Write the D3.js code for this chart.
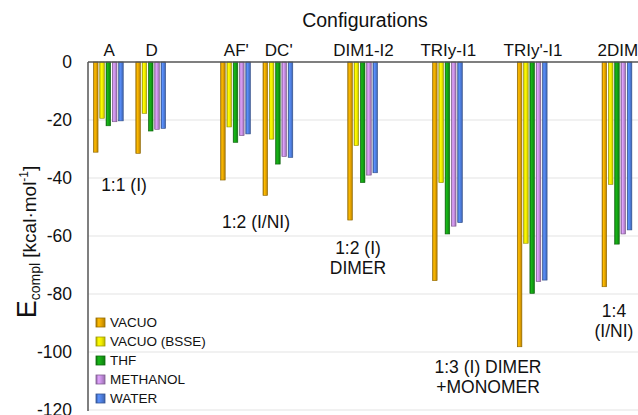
<!DOCTYPE html>
<html>
<head>
<meta charset="utf-8">
<script src="https://cdn.jsdelivr.net/npm/d3@7"></script>
<style>
  body { margin: 0; background: #fff; }
  svg { display: block; font-family: "Liberation Sans", Arial, sans-serif; }
</style>
</head>
<body>
<div id="chart"></div>
<script>
// Category slots along the top (empty strings are spacer slots)
const categories = ["A", "D", "", "AF'", "DC'", "", "DIM1-I2", "", "TRIy-I1", "", "TRIy'-I1", "", "2DIM"];
const configs = ["A", "D", "AF'", "DC'", "DIM1-I2", "TRIy-I1", "TRIy'-I1", "2DIM"];
const series = ["VACUO", "VACUO (BSSE)", "THF", "METHANOL", "WATER"];

// Complexation energies (kcal/mol), one array per series, in config order
const vacuo     = [-31.1, -31.5, -40.7, -46.0, -54.5, -75.4, -98.2, -77.5];
const vacuoBsse = [-19.4, -17.7, -22.4, -26.6, -28.8, -41.6, -62.5, -42.2];
const thf       = [-22.0, -23.8, -27.7, -35.2, -41.6, -59.3, -79.8, -62.8];
const methanol  = [-20.6, -23.2, -25.4, -32.6, -39.0, -56.6, -75.7, -59.3];
const water     = [-20.3, -22.9, -24.8, -32.9, -38.2, -55.4, -75.2, -57.9];

const yTicks = [0, -20, -40, -60, -80, -100, -120];

const colors = ["#E6A400", "#F2EC00", "#14A014", "#C48EDF", "#4F7FDF"];

// Text notes grouped by stoichiometry
const notes = [
  { lines: ["1:1 (I)"], x: 124, y: 191 },
  { lines: ["1:2 (I/NI)"], x: 256, y: 228 },
  { lines: ["1:2 (I)", "DIMER"], x: 358, y: 254 },
  { lines: ["1:3 (I) DIMER", "+MONOMER"], x: 488, y: 373 },
  { lines: ["1:4", "(I/NI)"], x: 614, y: 317 }
];

const width = 638, height = 415;
const margin = { top: 62, left: 88, right: 0, bottom: 5 };

const values = [vacuo, vacuoBsse, thf, methanol, water];
const data = configs.map((c, i) => ({
  config: c,
  vals: series.map((s, j) => ({ series: s, idx: j, value: values[j][i] }))
}));

const svg = d3.select("#chart").append("svg")
  .attr("width", width).attr("height", height);

const x = d3.scaleBand()
  .domain(categories.map((c, i) => c || "gap" + i))
  .range([margin.left, 639])
  .paddingInner(0).paddingOuter(0);

const y = d3.scaleLinear().domain([-120, 0]).range([410, margin.top]);

const inner = d3.scaleBand().domain(series).range([0, 31.5]);
const barW = 4.6;
const groupOffset = (x.bandwidth() - inner.range()[1]) / 2;

// gradients to give the bars their shaded look
const defs = svg.append("defs");
colors.forEach((c, i) => {
  const g = defs.append("linearGradient").attr("id", "grad" + i)
    .attr("x1", "0%").attr("x2", "100%").attr("y1", "0%").attr("y2", "0%");
  const base = d3.color(c);
  g.append("stop").attr("offset", "0%").attr("stop-color", base.darker(0.9));
  g.append("stop").attr("offset", "30%").attr("stop-color", base.brighter(0.4));
  g.append("stop").attr("offset", "60%").attr("stop-color", base);
  g.append("stop").attr("offset", "100%").attr("stop-color", base.darker(0.7));
});

// gridlines
svg.append("g").selectAll("line")
  .data(yTicks.filter(t => t !== 0))
  .join("line")
  .attr("x1", margin.left).attr("x2", width)
  .attr("y1", d => y(d)).attr("y2", d => y(d))
  .attr("stroke", "#e3e3e3").attr("stroke-width", 1);

// bars
const groups = svg.append("g").selectAll("g")
  .data(data)
  .join("g")
  .attr("transform", d => `translate(${x(d.config) + groupOffset},0)`);

groups.selectAll("rect")
  .data(d => d.vals)
  .join("rect")
  .attr("x", d => inner(d.series))
  .attr("y", y(0))
  .attr("width", barW)
  .attr("height", d => y(d.value) - y(0))
  .attr("fill", d => `url(#grad${d.idx})`)
  .attr("stroke", d => d3.color(colors[d.idx]).darker(1.4))
  .attr("stroke-width", 0.6);

// axes lines
svg.append("line")
  .attr("x1", margin.left).attr("x2", width)
  .attr("y1", y(0)).attr("y2", y(0))
  .attr("stroke", "#555").attr("stroke-width", 1.5);
svg.append("line")
  .attr("x1", margin.left).attr("x2", margin.left)
  .attr("y1", y(0)).attr("y2", 411)
  .attr("stroke", "#555").attr("stroke-width", 1.5);

// y tick labels (plain hyphen like the original)
const yAxis = svg.append("g")
  .attr("transform", `translate(${margin.left},0)`)
  .call(d3.axisLeft(y).tickValues(yTicks).tickSize(0).tickPadding(16)
    .tickFormat(d => String(d)));
yAxis.select(".domain").remove();
yAxis.selectAll("text")
  .attr("font-size", 17.5)
  .attr("font-family", "Liberation Sans, Arial, sans-serif")
  .attr("fill", "#111");

// category labels on top
const xAxis = svg.append("g")
  .attr("transform", `translate(0,${y(0) - 6})`)
  .call(d3.axisTop(x).tickSize(0).tickPadding(0)
    .tickFormat(d => d.startsWith("gap") ? "" : d));
xAxis.select(".domain").remove();
xAxis.selectAll("text")
  .attr("font-size", 17)
  .attr("font-family", "Liberation Sans, Arial, sans-serif")
  .attr("fill", "#111");

svg.append("text")
  .attr("x", 365).attr("y", 27)
  .attr("text-anchor", "middle")
  .attr("font-size", 19.5)
  .attr("fill", "#111")
  .text("Configurations");

// y axis title
const yt = svg.append("text")
  .attr("transform", "translate(36,242) rotate(-90)")
  .attr("text-anchor", "middle")
  .attr("fill", "#111");
yt.append("tspan").attr("font-size", 27).text("E");
yt.append("tspan").attr("font-size", 14).attr("dy", 4).text("compl");
yt.append("tspan").attr("font-size", 19).attr("dy", -4).text(" [kcal·mol");
yt.append("tspan").attr("font-size", 12).attr("dy", -8).text("-1");
yt.append("tspan").attr("font-size", 19).attr("dy", 8).text("]");

// notes
notes.forEach(n => {
  const t = svg.append("text")
    .attr("text-anchor", "middle")
    .attr("font-size", 17.5)
    .attr("fill", "#111");
  n.lines.forEach((l, i) => {
    t.append("tspan").attr("x", n.x).attr("y", n.y + i * 20).text(l);
  });
});

// legend
const legend = svg.append("g").attr("transform", "translate(96,318)");
series.forEach((s, i) => {
  const row = legend.append("g").attr("transform", `translate(0,${i * 19})`);
  row.append("rect")
    .attr("width", 9).attr("height", 9)
    .attr("fill", `url(#grad${i})`)
    .attr("stroke", d3.color(colors[i]).darker(1.2))
    .attr("stroke-width", 0.8);
  row.append("text")
    .attr("x", 14).attr("y", 9)
    .attr("font-size", 13.5)
    .attr("fill", "#111")
    .text(s);
});
</script>
</body>
</html>
